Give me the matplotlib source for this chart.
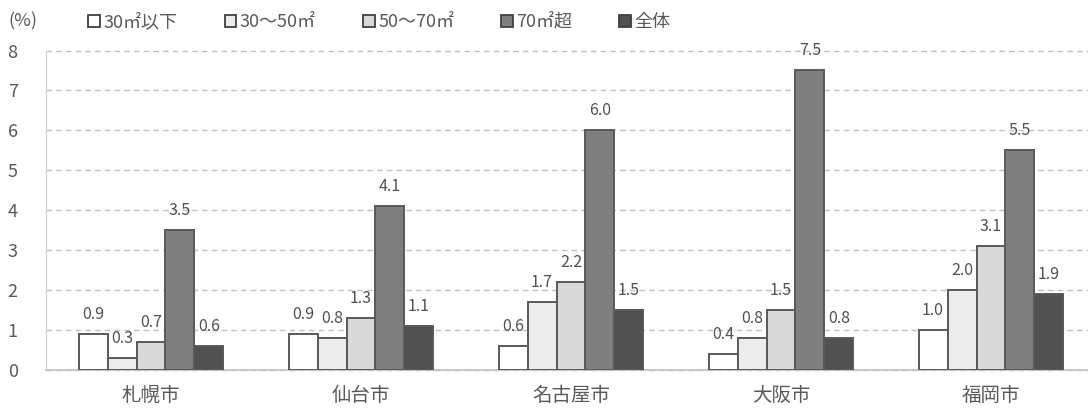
import matplotlib
matplotlib.use('Agg')
import matplotlib.pyplot as plt
from matplotlib.patches import Patch
import numpy as np

plt.rcParams['font.family'] = ['Noto Sans CJK JP', 'DejaVu Sans']

cities = ['札幌市', '仙台市', '名古屋市', '大阪市', '福岡市']
series = ['30㎡以下', '30～50㎡', '50～70㎡', '70㎡超', '全体']
under30 = [0.9, 0.9, 0.6, 0.4, 1.0]
s30_50 = [0.3, 0.8, 1.7, 0.8, 2.0]
s50_70 = [0.7, 1.3, 2.2, 1.5, 3.1]
over70 = [3.5, 4.1, 6.0, 7.5, 5.5]
total = [0.6, 1.1, 1.5, 0.8, 1.9]
values = [under30, s30_50, s50_70, over70, total]
colors = ['#ffffff', '#ececec', '#d9d9d9', '#7f7f7f', '#515151']

W, H = 1088, 412
fig = plt.figure(figsize=(W / 100, H / 100), dpi=100)
ax = fig.add_axes([46 / W, 1 - 370 / H, 1050 / W, (370 - 50.5) / H])

x = np.arange(len(cities))
bw = 0.138
for i, (vals, c) in enumerate(zip(values, colors)):
    pos = x + (i - 2) * bw
    ax.bar(pos, vals, width=bw, color=c, edgecolor='#595959', linewidth=1.4, zorder=3)
    for p, v in zip(pos, vals):
        ax.annotate(f'{v:.1f}', (p, v), xytext=(0, 20), textcoords='offset pixels',
                    ha='center', va='center', fontsize=11.5, color='#505050')

ax.set_xlim(-0.5, 4.5)
ax.set_ylim(0, 8)
ax.set_yticks(range(0, 9))
ax.set_xticks(x)
ax.set_xticklabels(cities, fontsize=14, color='#595959')
ax.tick_params(axis='y', labelsize=13, labelcolor='#595959', length=0, pad=24)
ax.tick_params(axis='x', length=0, pad=11)
for lbl in ax.get_yticklabels():
    lbl.set_horizontalalignment('center')
ax.yaxis.grid(True, linestyle=(0, (4, 3)), color='#c0c0c0', linewidth=1, zorder=0)
for gl in ax.get_ygridlines():
    gl.set_clip_on(False)
for s in ['top', 'right']:
    ax.spines[s].set_visible(False)
ax.spines['left'].set_color('#d0d0d0')
ax.spines['bottom'].set_color('#c0c0c0')
ax.spines['bottom'].set_linewidth(1.2)

fig.text(8 / W, 1 - 21 / H, '(%)', fontsize=13, color='#595959', va='center', ha='left')
handles = [Patch(facecolor=c, edgecolor='#404040', linewidth=1.3) for c in colors]
fig.legend(handles, series, loc='center left', bbox_to_anchor=(72 / W, 1 - 22 / H),
           ncol=5, frameon=False, fontsize=13, handlelength=0.65, handleheight=0.65,
           handletextpad=0.2, columnspacing=2.6, labelcolor='#595959')

fig.savefig('out.png', dpi=100)
